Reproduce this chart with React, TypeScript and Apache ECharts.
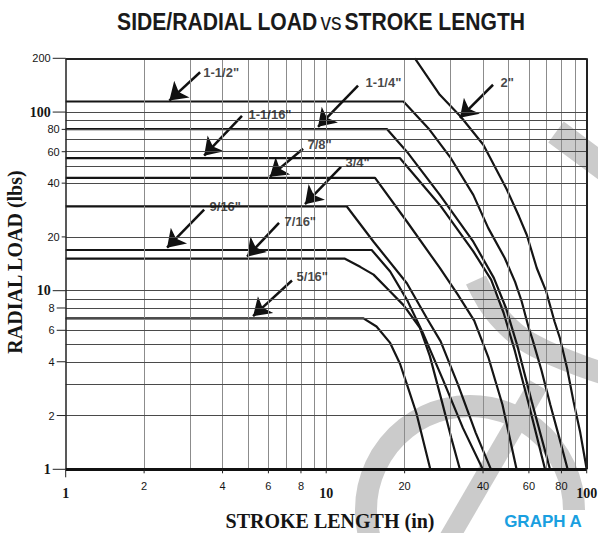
import React, { useEffect, useRef } from "react";
import * as echarts from "echarts";

// ---------- axis / grid values ----------
const xGridValues = [2, 3, 4, 5, 6, 7, 8, 9, 10, 20, 30, 40, 50, 60, 70, 80, 90];
const yGridValues = [2, 3, 4, 5, 6, 7, 8, 9, 10, 20, 30, 40, 50, 60, 70, 80, 90, 100];
const xTickLabels = [1, 2, 4, 6, 8, 10, 20, 40, 60, 80, 100];
const yTickLabels = [1, 2, 4, 6, 8, 10, 20, 40, 60, 80, 100, 200];
const majorValues = [1, 10, 100];

// ---------- curves: [stroke length (in), radial load (lbs)] ----------
const curve516 = [[1, 7.0], [13.9, 7.0], [15.6, 6.3], [17.6, 5.1], [19.2, 3.9], [20.4, 3.0], [22.2, 2.06], [25.1, 1]];
const curve716 = [[1, 15.1], [11.8, 15.1], [13.5, 13.6], [15.2, 12.3], [17.6, 9.9], [19.8, 8.3], [22.9, 6.2], [25, 4.3], [27.8, 2.4], [30.2, 1.5], [32.6, 1]];
const curve916 = [[1, 16.9], [14.95, 16.9], [17.6, 12.8], [20.5, 8.8], [23.5, 5.8], [28, 3.2], [33.5, 1.7], [39.9, 1]];
const curve34 = [[1, 29.6], [12, 29.6], [15.2, 18.8], [20.4, 11], [24.5, 6.9], [27.5, 5.2], [32, 3.0], [37.5, 1.6], [42.9, 1]];
const curve78 = [[1, 42.8], [15.4, 42.8], [20.4, 24.4], [27.3, 13.4], [32, 9.5], [37, 6.8], [42, 4.2], [47.5, 2.3], [53.8, 1]];
const curve1116 = [[1, 55.2], [19.2, 55.2], [27.3, 30.2], [36.7, 16.6], [43, 11.5], [48, 7.5], [53, 4.6], [60, 2.3], [69.2, 1]];
const curve114 = [[1, 80.3], [17.1, 80.3], [20.4, 60], [27.3, 34.4], [36.7, 18.8], [44, 11.8], [49, 8], [54, 5], [61.5, 2.4], [72.3, 1]];
const curve112 = [[1, 114.6], [19.8, 114.6], [24.7, 81], [29.9, 56], [36.7, 34.4], [41.9, 22.4], [48.5, 15.2], [53.1, 11.2], [56.3, 8.7], [59.7, 6.3], [62, 5.3], [67, 3.6], [72.5, 2.3], [78.5, 1.5], [84.5, 1]];
const curve2 = [[21.9, 200], [27.3, 125], [32.8, 94.5], [40.1, 65.6], [49.3, 37], [55, 26], [58.9, 20.5], [64.3, 13.4], [69.9, 9.9], [75.3, 6.7], [79, 5.4], [84, 3.7], [89, 2.4], [94.5, 1.6], [100, 1]];

const curveNames = ['5/16"', '7/16"', '9/16"', '3/4"', '7/8"', '1-1/16"', '1-1/4"', '1-1/2"', '2"'];
const curveData = [curve516, curve716, curve916, curve34, curve78, curve1116, curve114, curve112, curve2];

// ---------- annotation arrows (data units) ----------
const arrowNames = ['1-1/2"', '1-1/16"', '1-1/4"', '2"', '7/8"', '3/4"', '9/16"', '7/16"', '5/16"'];
const arrowTails = [[3.28, 167], [4.75, 95.3], [13.25, 140.4], [43.7, 142.2], [8.15, 62.3], [11.4, 49.4], [3.4, 28.4], [6.59, 24.0], [7.39, 11.4]];
const arrowTips = [[2.5, 116], [3.4, 57], [9.3, 82.7], [32.6, 92.9], [6.08, 43.5], [8.29, 30.5], [2.45, 17.4], [4.97, 15.5], [5.24, 7.2]];
const labelAnchors = [[3.36, 166], [5.01, 96.6], [14.1, 145.9], [46.5, 145.9], [8.44, 65.6], [11.8, 52.0], [3.55, 29.5], [6.89, 24.3], [7.66, 12.0]];

const GRAY = "#cbcbcb";
const SANS = '"Liberation Sans", Arial, sans-serif';

function buildOption(): any {
  const gridLines: any[] = [
    ...xGridValues.map((v) => ({ xAxis: v, lineStyle: { color: "#8c8c8c", width: 1, type: "solid" } })),
    ...yGridValues.map((v) => ({ yAxis: v, lineStyle: { color: "#4a4a4a", width: 1, type: "solid" } })),
    { xAxis: 1, lineStyle: { color: "#222", width: 1.5, type: "solid" } },
    { xAxis: 100, lineStyle: { color: "#222", width: 2, type: "solid" } },
    { yAxis: 200, lineStyle: { color: "#222", width: 2, type: "solid" } },
    { yAxis: 1, lineStyle: { color: "#111", width: 3, type: "solid" } },
  ];

  const series: any[] = [
    {
      type: "line",
      name: "grid",
      data: [[1, 1]],
      showSymbol: false,
      lineStyle: { opacity: 0 },
      silent: true,
      clip: false,
      z: 1,
      markLine: {
        silent: true,
        symbol: ["none", "none"],
        label: { show: false },
        animation: false,
        data: gridLines,
      },
    },
    ...curveData.map((d, i) => ({
      type: "line",
      name: curveNames[i],
      data: d,
      showSymbol: false,
      symbol: "none",
      lineStyle: { color: "#151515", width: 2.2 },
      silent: true,
      z: 3,
    })),
    {
      type: "lines",
      coordinateSystem: "cartesian2d",
      silent: true,
      z: 4,
      symbol: ["none", "arrow"],
      symbolSize: [1, 17],
      lineStyle: { color: "#111", width: 2.5, opacity: 1 },
      data: arrowTails.map((t, i) => ({ coords: [t, arrowTips[i]] })),
    },
    {
      type: "scatter",
      silent: true,
      z: 5,
      symbolSize: 1,
      itemStyle: { color: "rgba(0,0,0,0)" },
      label: {
        show: true,
        position: "right",
        distance: 0,
        formatter: "{b}",
        fontFamily: SANS,
        fontWeight: "bold",
        fontSize: 13,
        color: "#151515",
      },
      data: arrowNames.map((n, i) => ({ name: n, value: labelAnchors[i] })),
    },
    {
      type: "custom",
      coordinateSystem: "cartesian2d",
      silent: true,
      clip: false,
      z: 5,
      data: yTickLabels.map((v) => [1, v]),
      renderItem: (_p: any, api: any) => {
        const v = api.value(1) as number;
        const p = api.coord([1, v]);
        const major = majorValues.includes(v);
        const len = major || v >= 100 ? 13 : v >= 20 ? 4 : 9;
        return {
          type: "group",
          children: [
            { type: "line", shape: { x1: p[0] - len, y1: p[1], x2: p[0], y2: p[1] }, style: { stroke: "#222", lineWidth: 1 } },
            {
              type: "text",
              x: p[0] - len - 2,
              y: p[1],
              style: {
                text: String(v),
                fill: "#151515",
                font: major ? 'bold 14px "Liberation Serif", serif' : '11px "Liberation Sans", Arial, sans-serif',
                align: "right",
                verticalAlign: "middle",
              },
            },
          ],
        };
      },
    },
    {
      type: "custom",
      coordinateSystem: "cartesian2d",
      silent: true,
      clip: false,
      z: 5,
      data: xTickLabels.map((v) => [v, 1]),
      renderItem: (_p: any, api: any) => {
        const v = api.value(0) as number;
        const p = api.coord([v, 1]);
        const major = majorValues.includes(v);
        const len = v === 1 ? 8 : 4;
        return {
          type: "group",
          children: [
            { type: "line", shape: { x1: p[0], y1: p[1], x2: p[0], y2: p[1] + len }, style: { stroke: "#222", lineWidth: 1 } },
            {
              type: "text",
              x: p[0],
              y: p[1] + (major ? 24 : 17),
              style: {
                text: String(v),
                fill: "#151515",
                font: major ? 'bold 14px "Liberation Serif", serif' : '11px "Liberation Sans", Arial, sans-serif',
                align: "center",
                verticalAlign: "middle",
              },
            },
          ],
        };
      },
    },
  ];

  return {
    animation: false,
    backgroundColor: "#ffffff",
    grid: { left: 65.7, right: 11.3, top: 58.3, bottom: 63.7, containLabel: false, show: false },
    xAxis: {
      type: "log",
      logBase: 10,
      min: 1,
      max: 100,
      axisLine: { show: false },
      axisTick: { show: false },
      axisLabel: { show: false },
      splitLine: { show: false },
    },
    yAxis: {
      type: "log",
      logBase: 10,
      min: 1,
      max: 200,
      axisLine: { show: false },
      axisTick: { show: false },
      axisLabel: { show: false },
      splitLine: { show: false },
    },
    graphic: [
      // watermark
      {
        type: "arc",
        z: 0,
        silent: true,
        shape: { cx: 470, cy: 510, r: 104, startAngle: Math.PI * 0.85, endAngle: Math.PI * 2, clockwise: true },
        style: { stroke: GRAY, lineWidth: 22, fill: "none" },
      },
      {
        type: "line",
        z: 0,
        silent: true,
        shape: { x1: 448, y1: 540, x2: 538, y2: 385 },
        style: { stroke: GRAY, lineWidth: 20 },
      },
      {
        type: "polyline",
        z: 0,
        silent: true,
        shape: { points: [[476, 280], [498, 316], [535, 346], [605, 374]], smooth: 0.4 },
        style: { stroke: GRAY, lineWidth: 22, fill: "none" },
      },
      {
        type: "line",
        z: 0,
        silent: true,
        shape: { x1: 556, y1: 132, x2: 610, y2: 172 },
        style: { stroke: GRAY, lineWidth: 26 },
      },
      // title
      {
        type: "text",
        x: 321,
        y: 22,
        z: 10,
        scaleX: 0.88,
        style: {
          text: "{b|SIDE/RADIAL LOAD} {s|vs} {b|STROKE LENGTH}",
          align: "center",
          verticalAlign: "middle",
          rich: {
            b: { fontFamily: SANS, fontWeight: "bold", fontSize: 24, fill: "#1a1a1a", verticalAlign: "bottom" },
            s: { fontFamily: SANS, fontWeight: "normal", fontSize: 24, fill: "#1a1a1a", verticalAlign: "bottom" },
          },
        },
      },
      {
        type: "text",
        x: 15,
        y: 262,
        rotation: Math.PI / 2,
        z: 10,
        style: {
          text: "RADIAL LOAD (lbs)",
          font: 'bold 20px "Liberation Serif", serif',
          fill: "#151515",
          align: "center",
          verticalAlign: "middle",
        },
      },
      {
        type: "text",
        x: 330,
        y: 521,
        z: 10,
        style: {
          text: "STROKE LENGTH (in)",
          font: 'bold 20px "Liberation Serif", serif',
          fill: "#151515",
          align: "center",
          verticalAlign: "middle",
        },
      },
      {
        type: "text",
        x: 543,
        y: 521,
        z: 10,
        style: {
          text: "GRAPH A",
          font: 'bold 17px "Liberation Sans", Arial, sans-serif',
          fill: "#1a9fe0",
          align: "center",
          verticalAlign: "middle",
        },
      },
    ],
    series,
  };
}

export default function App() {
  const ref = useRef<HTMLDivElement>(null);
  useEffect(() => {
    if (!ref.current) return;
    const chart = echarts.init(ref.current, undefined, { renderer: "svg" });
    chart.setOption(buildOption());
    return () => chart.dispose();
  }, []);
  return <div ref={ref} style={{ position: "absolute", left: 0, top: 0, width: 598, height: 533, background: "#fff" }} />;
}
